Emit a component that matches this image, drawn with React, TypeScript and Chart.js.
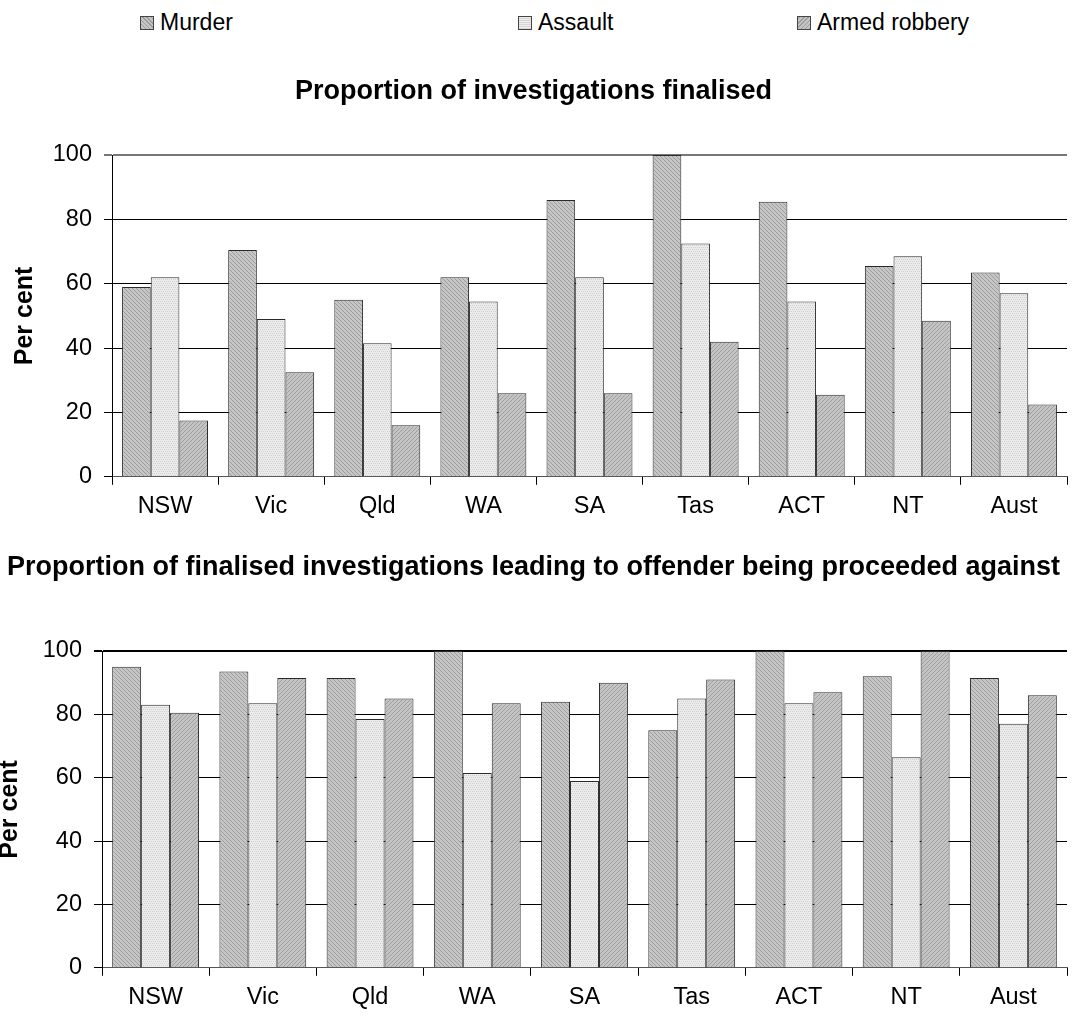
import React, { useEffect, useRef } from "react";
import { Chart, registerables } from "chart.js";

Chart.register(...registerables);

const categories = ["NSW", "Vic", "Qld", "WA", "SA", "Tas", "ACT", "NT", "Aust"];
const seriesNames = ["Murder", "Assault", "Armed robbery"];

const finalisedMurder = [59, 70.5, 55, 62, 86, 100, 85.5, 65.5, 63.5];
const finalisedAssault = [62, 49, 41.5, 54.5, 62, 72.5, 54.5, 68.5, 57];
const finalisedRobbery = [17.5, 32.5, 16, 26, 26, 42, 25.5, 48.5, 22.5];

const proceededMurder = [95, 93.5, 91.5, 100, 84, 75, 100, 92, 91.5];
const proceededAssault = [83, 83.5, 78.5, 61.5, 59, 85, 83.5, 66.5, 77];
const proceededRobbery = [80.5, 91.5, 85, 83.5, 90, 91, 87, 100, 86];

const yTicks = [0, 20, 40, 60, 80, 100];

const topTitle = "Proportion of investigations finalised";
const bottomTitle = "Proportion of finalised investigations leading to offender being proceeded against";
const yTitle = "Per cent";

const FONT = "Arial, 'Liberation Sans', sans-serif";

function makePattern(kind: string): CanvasPattern | string {
  const c = document.createElement("canvas");
  const s = 4;
  c.width = s;
  c.height = s;
  const g = c.getContext("2d");
  if (!g) return "#bbb";
  if (kind === "murder") {
    g.fillStyle = "#c6c6c6";
    g.fillRect(0, 0, s, s);
    g.fillStyle = "#9c9c9c";
    for (let i = 0; i < s; i++) g.fillRect(i, i, 1, 1);
  } else if (kind === "robbery") {
    g.fillStyle = "#c4c4c4";
    g.fillRect(0, 0, s, s);
    g.fillStyle = "#9e9e9e";
    for (let i = 0; i < s; i++) g.fillRect(s - 1 - i, i, 1, 1);
  } else {
    g.fillStyle = "#ececec";
    g.fillRect(0, 0, s, s);
    g.fillStyle = "#cfcfcf";
    g.fillRect(0, 1, 1, 1);
    g.fillRect(2, 1, 1, 1);
    g.fillRect(1, 3, 1, 1);
    g.fillRect(3, 3, 1, 1);
  }
  const p = g.createPattern(c, "repeat");
  return p || "#bbb";
}

interface ChartOpts {
  axisWidth: number;
  titlePadTop: number;
  titlePadBottom: number;
  yTitlePad: number;
  yTitleLH: number;
  padBottom: number;
  topGridColor: string;
}

function buildChart(canvas: HTMLCanvasElement, data: number[][], title: string, opts: ChartOpts) {
  const fills = [makePattern("murder"), makePattern("assault"), makePattern("robbery")];
  return new Chart(canvas, {
    type: "bar",
    data: {
      labels: categories,
      datasets: data.map((d, i) => ({
        label: seriesNames[i],
        data: d,
        backgroundColor: fills[i] as any,
        borderColor: "#2a2a2a",
        borderWidth: 1,
        borderSkipped: "bottom",
        categoryPercentage: 0.81,
        barPercentage: 1.0,
      })),
    },
    options: {
      animation: false,
      responsive: false,
      events: [],
      layout: { padding: { left: 0, right: 7, top: 0, bottom: opts.padBottom } },
      plugins: {
        legend: { display: false },
        tooltip: { enabled: false },
        title: {
          display: true,
          text: title,
          fullSize: true,
          color: "#000",
          font: { family: FONT, size: 27, weight: "bold", lineHeight: 1.2 },
          padding: { top: opts.titlePadTop, bottom: opts.titlePadBottom },
        },
      },
      scales: {
        x: {
          grid: {
            display: true,
            offset: true,
            drawOnChartArea: false,
            drawTicks: true,
            tickLength: 8,
            color: "#000",
            lineWidth: 1,
          },
          border: { display: true, color: "#555", width: 1 },
          ticks: { color: "#000", font: { family: FONT, size: 23.5 }, padding: 8, maxRotation: 0 },
        },
        y: {
          min: 0,
          max: 100,
          afterBuildTicks: (scale: any) => {
            scale.ticks = yTicks.map((v) => ({ value: v }));
          },
          afterFit: (scale: any) => {
            scale.width = opts.axisWidth;
          },
          grid: {
            color: (ctx: any) => (ctx.tick && ctx.tick.value === 100 ? opts.topGridColor : "#000"),
            lineWidth: (ctx: any) => (ctx.tick && ctx.tick.value === 100 ? 2 : 1),
            drawTicks: true,
            tickLength: 8,
          },
          border: { display: true, color: "#000", width: 1 },
          ticks: { color: "#000", font: { family: FONT, size: 23.5 }, padding: 12 },
          title: {
            display: true,
            text: yTitle,
            color: "#000",
            font: { family: FONT, size: 25, weight: "bold", lineHeight: opts.yTitleLH },
            padding: { top: opts.yTitlePad, bottom: 0 },
          },
        },
      },
    },
  } as any);
}

function legendBox(kind: string): React.CSSProperties {
  let bg = "";
  if (kind === "assault") {
    bg = "repeating-linear-gradient(0deg, #d6d6d6 0px, #d6d6d6 1px, #ededed 1px, #ededed 2px)";
  } else if (kind === "murder") {
    bg = "repeating-linear-gradient(45deg, #9c9c9c 0px, #9c9c9c 1px, #c6c6c6 1px, #c6c6c6 3px)";
  } else {
    bg = "repeating-linear-gradient(-45deg, #9e9e9e 0px, #9e9e9e 1px, #c4c4c4 1px, #c4c4c4 3px)";
  }
  return {
    position: "absolute",
    width: 14,
    height: 14,
    border: "1px solid #444",
    background: bg,
    boxSizing: "border-box",
  };
}

const legendX = [140, 518, 797];
const legendKinds = ["murder", "assault", "robbery"];

export default function App() {
  const topRef = useRef<HTMLCanvasElement | null>(null);
  const botRef = useRef<HTMLCanvasElement | null>(null);

  useEffect(() => {
    const charts: Chart[] = [];
    if (topRef.current) {
      charts.push(
        buildChart(topRef.current, [finalisedMurder, finalisedAssault, finalisedRobbery], topTitle, {
          axisWidth: 112,
          titlePadTop: 15.8,
          titlePadBottom: 46.8,
          yTitlePad: 13,
          yTitleLH: 1,
          padBottom: 5,
          topGridColor: "#777",
        })
      );
    }
    if (botRef.current) {
      charts.push(
        buildChart(botRef.current, [proceededMurder, proceededAssault, proceededRobbery], bottomTitle, {
          axisWidth: 102,
          titlePadTop: 21,
          titlePadBottom: 67.6,
          yTitlePad: 0,
          yTitleLH: 0.8,
          padBottom: 3,
          topGridColor: "#000",
        })
      );
    }
    return () => charts.forEach((c) => c.destroy());
  }, []);

  return (
    <div style={{ position: "absolute", left: 0, top: 0, width: 1074, height: 1019, background: "#fff", overflow: "hidden" }}>
      {seriesNames.map((n, i) => (
        <React.Fragment key={n}>
          <div style={{ ...legendBox(legendKinds[i]), left: legendX[i], top: 16 }} />
          <div
            style={{
              position: "absolute",
              left: legendX[i] + 20,
              top: 9,
              fontFamily: FONT,
              fontSize: 23,
              lineHeight: "27px",
              color: "#000",
              whiteSpace: "nowrap",
            }}
          >
            {n}
          </div>
        </React.Fragment>
      ))}
      <canvas ref={topRef} width={1074} height={474} style={{ position: "absolute", left: 0, top: 60, display: "block" }} />
      <canvas ref={botRef} width={1074} height={493} style={{ position: "absolute", left: 0, top: 530, display: "block" }} />
    </div>
  );
}
